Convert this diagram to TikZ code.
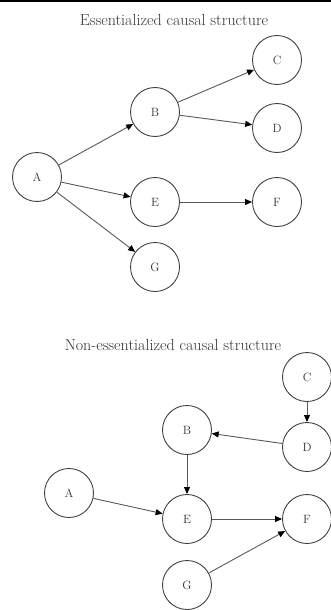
\documentclass[tikz,border=0pt]{standalone}
\usetikzlibrary{arrows.meta}
\begin{document}
\begin{tikzpicture}[x=1pt,y=-1pt,
  vnode/.style={circle,draw=black!75,line width=0.9pt,minimum size=49pt,inner sep=0pt,font=\fontsize{12}{14}\selectfont,text=black!80},
  edge/.style={draw=black!65,line width=0.9pt,-{Triangle[length=7pt,width=6pt,black]}},
  ttl/.style={font=\fontsize{16}{18}\selectfont,text=black!80}]
\useasboundingbox (0,0) rectangle (331,610);
\fill[black] (0,0) rectangle (331,2);
% top diagram
\node[ttl] (t1) at (174,20) {Essentialized causal structure};
\node[vnode] (A1) at (37,177) {A};
\node[vnode] (B1) at (155,112) {B};
\node[vnode] (C1) at (277,60) {C};
\node[vnode] (D1) at (277,128) {D};
\node[vnode] (E1) at (155,202) {E};
\node[vnode] (F1) at (277,202) {F};
\node[vnode] (G1) at (155,267) {G};
\draw[edge] (A1) -- (B1);
\draw[edge] (A1) -- (E1);
\draw[edge] (A1) -- (G1);
\draw[edge] (B1) -- (C1);
\draw[edge] (B1) -- (D1);
\draw[edge] (E1) -- (F1);
% bottom diagram
\node[ttl] (t2) at (173,345) {Non-essentialized causal structure};
\node[vnode] (C2) at (307,377) {C};
\node[vnode] (D2) at (307,447) {D};
\node[vnode] (B2) at (187,430) {B};
\node[vnode] (A2) at (69,493) {A};
\node[vnode] (E2) at (187,519) {E};
\node[vnode] (F2) at (307,519) {F};
\node[vnode] (G2) at (187,585) {G};
\draw[edge] (C2) -- (D2);
\draw[edge] (D2) -- (B2);
\draw[edge] (B2) -- (E2);
\draw[edge] (A2) -- (E2);
\draw[edge] (E2) -- (F2);
\draw[edge] (G2) -- (F2);
\end{tikzpicture}
\end{document}
